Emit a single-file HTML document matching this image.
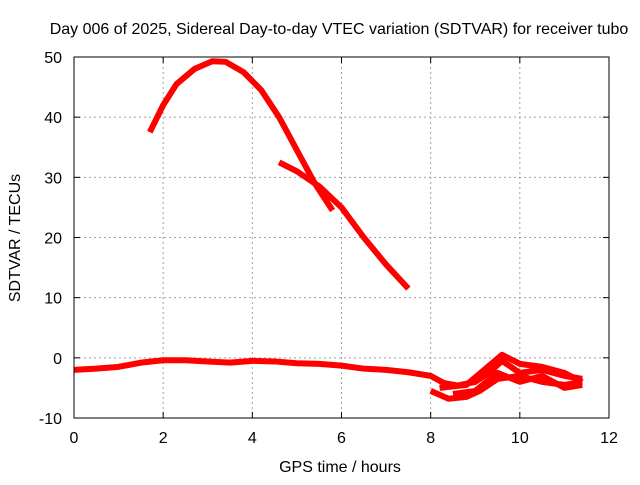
<!DOCTYPE html>
<html><head><meta charset="utf-8"><style>
body{margin:0;background:#fff}
svg text{font-family:"Liberation Sans",sans-serif;font-size:16px;fill:#000}
</style></head><body>
<svg id="chart" width="640" height="480">
<text x="339" y="34" text-anchor="middle">Day 006 of 2025, Sidereal Day-to-day VTEC variation (SDTVAR) for receiver tubo</text>
<g id="grid"></g>
<g id="series"></g>
<rect x="74" y="57" width="535" height="361" fill="none" stroke="#000" stroke-width="1"/>
<g id="ticks"></g>
<text x="340" y="472" text-anchor="middle">GPS time / hours</text>
<text transform="translate(20,238) rotate(-90)" text-anchor="middle">SDTVAR / TECUs</text>
</svg>
<script>
const xTicks=[0,2,4,6,8,10,12];
const yTicks=[-10,0,10,20,30,40,50];
const seriesA=[[1.7,37.5],[2.0,42],[2.3,45.5],[2.7,48],[3.1,49.3],[3.4,49.2],[3.8,47.5],[4.2,44.5],[4.6,40],[5.0,34.5],[5.4,29],[5.8,24.5]];
const seriesB=[[4.6,32.5],[5.0,31],[5.5,28.5],[6.0,25],[6.5,20],[7.0,15.5],[7.5,11.5]];
const seriesC=[[0,-2],[0.5,-1.8],[1,-1.5],[1.5,-0.8],[2,-0.4],[2.5,-0.4],[3,-0.6],[3.5,-0.8],[4,-0.5],[4.5,-0.6],[5,-0.9],[5.5,-1],[6,-1.3],[6.5,-1.8],[7,-2],[7.5,-2.4],[8,-3],[8.3,-4.2],[8.6,-4.6],[9,-4],[9.3,-2.5],[9.6,-0.5],[10,-2.5],[10.5,-2],[11,-3],[11.4,-3.5]];
const seriesD=[[8,-5.5],[8.4,-6.8],[8.8,-6.5],[9.1,-5.5],[9.5,-3.5],[10,-3],[10.5,-4],[11,-4.5],[11.4,-4]];
const seriesE=[[8.2,-5],[8.8,-4.5],[9.2,-2],[9.6,0.5],[10,-1],[10.5,-1.5],[11,-2.5],[11.4,-4]];
const seriesF=[[8.5,-6],[9.0,-5.5],[9.5,-2.5],[10.0,-4],[10.5,-3],[11,-5],[11.4,-4.5]];
const NS="http://www.w3.org/2000/svg";
const L=74,R=609,T=57,B=418;
function sx(v){return L+(v-0)/(12-0)*(R-L);}
function sy(v){return B-(v+10)/(60)*(B-T);}
function mk(t,a){const e=document.createElementNS(NS,t);for(const k in a)e.setAttribute(k,a[k]);return e;}
const grid=document.getElementById('grid'),ticks=document.getElementById('ticks'),ser=document.getElementById('series');
xTicks.forEach(v=>{const x=sx(v);
 if(v>0&&v<12){const g=mk('line',{x1:x,x2:x,y1:T,y2:B,stroke:'#a0a0a0','stroke-dasharray':'2,3'});grid.appendChild(g);}
 const t=mk('line',{x1:x,x2:x,y1:B,y2:B-6,stroke:'#000'});ticks.appendChild(t);
 const t2=mk('line',{x1:x,x2:x,y1:T,y2:T+6,stroke:'#000'});ticks.appendChild(t2);
 const l=mk('text',{x:x,y:B+25,'text-anchor':'middle'});l.textContent=v;ticks.appendChild(l);});
yTicks.forEach(v=>{const y=sy(v);
 if(v>-10&&v<50){const g=mk('line',{x1:L,x2:R,y1:y,y2:y,stroke:'#a0a0a0','stroke-dasharray':'2,3'});grid.appendChild(g);}
 const t=mk('line',{x1:L,x2:L+6,y1:y,y2:y,stroke:'#000'});ticks.appendChild(t);
 const t2=mk('line',{x1:R,x2:R-6,y1:y,y2:y,stroke:'#000'});ticks.appendChild(t2);
 const l=mk('text',{x:L-12,y:y+6,'text-anchor':'end'});l.textContent=v;ticks.appendChild(l);});
[['arc-series',seriesA],['descent-series',seriesB],['baseline-series',seriesC],['low-series-1',seriesD],['low-series-2',seriesE],['low-series-3',seriesF]].forEach(([n,d])=>{
 const p=mk('polyline',{points:d.map(q=>sx(q[0])+','+sy(q[1])).join(' '),fill:'none',stroke:'#ff0000','stroke-width':6,'stroke-linejoin':'round'});
 
 
 ser.appendChild(p);});
</script>
</body></html>
